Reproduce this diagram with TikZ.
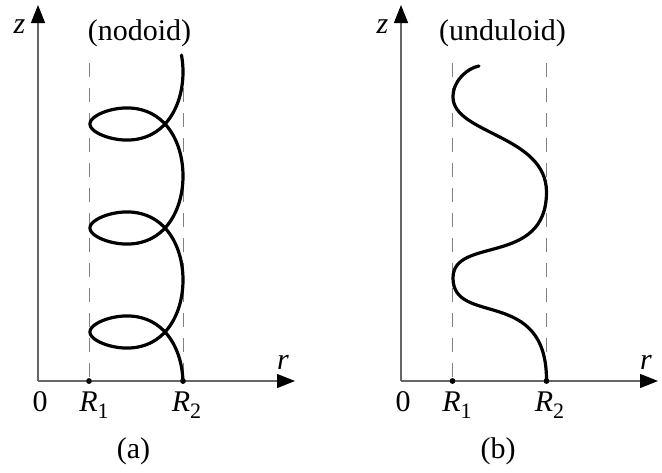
\documentclass[tikz,border=0pt]{standalone}
\usepackage{fontspec}
\setmainfont{Liberation Serif}
\usetikzlibrary{arrows.meta}
\newcommand\Rlab[1]{\textit{R}\raisebox{-7pt}{\fontsize{22}{22}\selectfont #1}}
\begin{document}
\begin{tikzpicture}[x=1pt,y=-1pt,
  axisline/.style={draw=black!60, line width=1.1pt, -{Triangle[length=18pt,width=14pt,color=black]}},
  guide/.style={draw=black!50, line width=0.9pt, dash pattern=on 14pt off 11pt},
  curve/.style={draw=black, line width=3.2pt, line cap=round},
  lab/.style={inner sep=0pt, anchor=base, font=\fontsize{30}{35}\selectfont},
  dotmark/.style={fill=black, circle, inner sep=0pt, minimum size=5.5pt}]
\useasboundingbox (0,0) rectangle (662,472);

% ---------- panel (a): nodoid ----------
\begin{scope}
  \coordinate (Oa) at (38,381);
  \coordinate (Za) at (38,5);
  \coordinate (Ra) at (295,381);
  \coordinate (G1a) at (89,63);
  \coordinate (G2a) at (183,63);
  \node[dotmark] (R1a) at (89,381) {};
  \node[dotmark] (R2a) at (183,381) {};
  \draw[guide] (G1a) -- (R1a.center);
  \draw[guide] (G2a) -- (R2a.center);
  \draw[axisline] (Oa) -- (Za);
  \draw[axisline] (Oa) -- (Ra);
  \draw[curve] plot[domain=-0.257:18.805, samples=500, smooth, variable=\t]
     ({136.5+46.5*cos(deg(\t))},{72+16.552*\t+41.3*sin(deg(\t))+4.43*sin(deg(2*\t))});
  \node[dotmark] at (R1a) {};
  \node[dotmark] at (R2a) {};
  \node[lab] (za) at (19.5,33) {\textit{z}};
  \node[lab] (ra) at (283,369) {\textit{r}};
  \node[lab] (oa) at (40,411) {0};
  \node[lab] (r1a) at (94,411) {\Rlab{1}};
  \node[lab] (r2a) at (186.5,411) {\Rlab{2}};
  \node[lab] (ta) at (139.5,40) {(nodoid)};
  \node[lab] (ca) at (133.5,458) {(a)};
\end{scope}

% ---------- panel (b): unduloid ----------
\begin{scope}[shift={(363,0)}]
  \coordinate (Ob) at (38,381);
  \coordinate (Zb) at (38,5);
  \coordinate (Rb) at (295,381);
  \coordinate (G1b) at (89.5,63);
  \coordinate (G2b) at (183.5,63);
  \node[dotmark] (R1b) at (89.5,381) {};
  \node[dotmark] (R2b) at (183.5,381) {};
  \draw[guide] (G1b) -- (R1b.center);
  \draw[guide] (G2b) -- (R2b.center);
  \draw[axisline] (Ob) -- (Zb);
  \draw[axisline] (Ob) -- (Rb);
  \draw[curve] (116,66) .. controls (105,68) and (90,80) .. (90,97)
     .. controls (90,133.8) and (183.5,135.2) .. (183.5,192)
     .. controls (183.5,266.9) and (90,235.9) .. (90,278)
     .. controls (90,326.6) and (183.5,286.2) .. (183.5,380);
  \node[dotmark] at (R1b) {};
  \node[dotmark] at (R2b) {};
  \node[lab] (zb) at (19.5,33) {\textit{z}};
  \node[lab] (rb) at (283,369) {\textit{r}};
  \node[lab] (ob) at (40,411) {0};
  \node[lab] (r1b) at (94,411) {\Rlab{1}};
  \node[lab] (r2b) at (186.5,411) {\Rlab{2}};
  \node[lab] (tb) at (139.5,40) {(unduloid)};
  \node[lab] (cb) at (135,458) {(b)};
\end{scope}
\end{tikzpicture}
\end{document}
